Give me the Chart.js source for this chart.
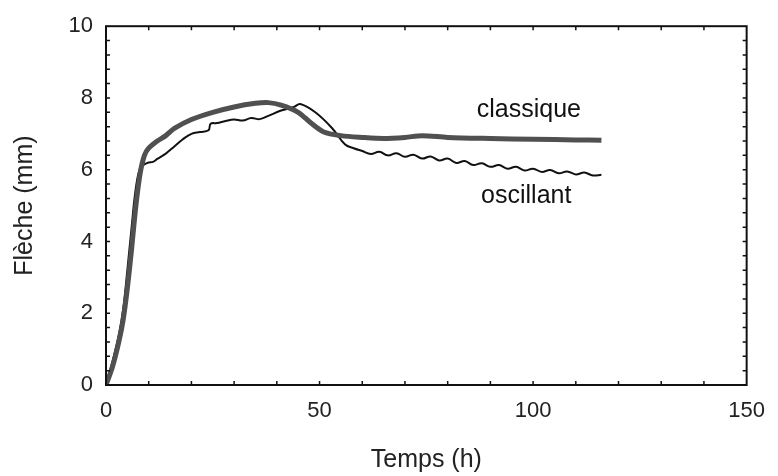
<!DOCTYPE html>
<html>
<head>
<meta charset="utf-8">
<script src="https://cdn.jsdelivr.net/npm/chart.js@4"></script>
<style>
  body { margin: 0; background: #fff; }
  #wrap { width: 778px; height: 476px; }
</style>
</head>
<body>
<div id="wrap"><canvas id="myChart"></canvas></div>
<script>
// deflection vs time, classic and oscillating loading
const classiqueT = [0, 1.5, 3, 4, 5, 6, 7, 8, 9, 10, 12, 14, 16, 20, 25, 30, 35, 38, 41, 45, 48, 51, 55, 60, 65, 70, 74, 80, 90, 100, 110, 116];
const classiqueF = [0, 0.5, 1.2, 1.8, 2.7, 3.8, 5.0, 5.9, 6.4, 6.6, 6.8, 6.95, 7.15, 7.4, 7.6, 7.75, 7.85, 7.87, 7.8, 7.6, 7.3, 7.05, 6.95, 6.9, 6.87, 6.9, 6.95, 6.9, 6.87, 6.85, 6.83, 6.82];

const oscillantT = [0, 1.5, 3, 4, 5, 6, 7, 8, 9, 10, 11, 12, 14, 16, 18, 20, 22, 24, 24.5, 26, 28, 30, 32, 34, 36, 38, 41, 44, 45.5, 49, 53, 56, 58, 60,
  62, 64, 66, 68, 70, 72, 74, 76, 78, 80, 82, 84, 86, 88, 90, 92, 94, 96, 98, 100, 102, 104, 106, 108, 110, 112, 114, 116];
const oscillantF = [0, 0.65, 1.4, 2.1, 3.2, 4.4, 5.5, 6.05, 6.15, 6.2, 6.22, 6.3, 6.45, 6.65, 6.85, 7.0, 7.05, 7.1, 7.28, 7.3, 7.36, 7.4, 7.37, 7.44, 7.41, 7.5, 7.65, 7.75, 7.83, 7.6, 7.15, 6.7, 6.6, 6.52,
  6.44, 6.5, 6.4, 6.46, 6.36, 6.42, 6.31, 6.37, 6.26, 6.31, 6.19, 6.24, 6.13, 6.18, 6.08, 6.13, 6.03, 6.08, 5.98, 6.03, 5.94, 5.99, 5.9, 5.95, 5.87, 5.92, 5.84, 5.86];

const xTicks = [0, 50, 100, 150];
const yTicks = [0, 2, 4, 6, 8, 10];

// curve names written next to the lines (x, y in data units)
const curveLabels = [
  { text: "classique", x: 99, y: 7.65 },
  { text: "oscillant", x: 98.4, y: 5.27 }
];

const FONT = "'Liberation Sans', Arial, sans-serif";

function toPoints(xs, ys) {
  var pts = [];
  for (var i = 0; i < xs.length; i++) pts.push({ x: xs[i], y: ys[i] });
  return pts;
}

// frame with small inward ticks on all four sides, plus the curve names
const framePlugin = {
  id: "frame",
  afterDatasetsDraw(chart) {
    const ctx = chart.ctx;
    const a = chart.chartArea;
    const xs = chart.scales.x, ys = chart.scales.y;
    ctx.save();
    ctx.strokeStyle = "#111";
    ctx.lineWidth = 2;
    ctx.strokeRect(a.left, a.top, a.right - a.left, a.bottom - a.top);
    ctx.lineWidth = 1.5;
    ctx.beginPath();
    for (var v = 10; v < 150; v += 10) {
      var px = xs.getPixelForValue(v);
      ctx.moveTo(px, a.bottom); ctx.lineTo(px, a.bottom - 4);
      ctx.moveTo(px, a.top); ctx.lineTo(px, a.top + 4);
    }
    for (var k = 1; k < 25; k++) {
      var py = ys.getPixelForValue(k * 0.4);
      ctx.moveTo(a.left, py); ctx.lineTo(a.left + 4, py);
      ctx.moveTo(a.right, py); ctx.lineTo(a.right - 4, py);
    }
    ctx.stroke();

    ctx.fillStyle = "#111";
    ctx.font = "25px " + FONT;
    ctx.textAlign = "center";
    ctx.textBaseline = "middle";
    curveLabels.forEach(function (l) {
      ctx.fillText(l.text, xs.getPixelForValue(l.x), ys.getPixelForValue(l.y));
    });
    ctx.restore();
  }
};

new Chart("myChart", {
  type: "line",
  data: {
    datasets: [{
      label: "classique",
      data: toPoints(classiqueT, classiqueF),
      borderColor: "#505050",
      borderWidth: 5,
      pointRadius: 0,
      tension: 0.3,
      fill: false
    }, {
      label: "oscillant",
      data: toPoints(oscillantT, oscillantF),
      borderColor: "#111",
      borderWidth: 2,
      pointRadius: 0,
      tension: 0.4,
      fill: false
    }]
  },
  options: {
    responsive: true,
    maintainAspectRatio: false,
    animation: false,
    layout: { padding: { top: 17, right: 24, bottom: 0, left: 0 } },
    plugins: { legend: { display: false }, tooltip: { enabled: false } },
    scales: {
      x: {
        type: "linear",
        min: 0, max: 150,
        afterFit: function (s) { s.height = 91; },
        afterBuildTicks: function (s) { s.ticks = xTicks.map(function (v) { return { value: v }; }); },
        grid: { display: false, drawTicks: false },
        border: { display: false },
        ticks: { padding: 13, color: "#222", font: { family: FONT, size: 22 }, maxRotation: 0 },
        title: { display: true, text: "Temps (h)", color: "#222", font: { family: FONT, size: 25 }, padding: { top: 0, bottom: 1 } }
      },
      y: {
        min: 0, max: 10,
        afterFit: function (s) { s.width = 106; },
        afterBuildTicks: function (s) { s.ticks = yTicks.map(function (v) { return { value: v }; }); },
        grid: { display: false, drawTicks: false },
        border: { display: false },
        ticks: { padding: 13, color: "#222", font: { family: FONT, size: 22 } },
        title: { display: true, text: "Flèche (mm)", color: "#222", font: { family: FONT, size: 25 }, padding: { top: 10, bottom: 0 } }
      }
    }
  },
  plugins: [framePlugin]
});
</script>
</body>
</html>
